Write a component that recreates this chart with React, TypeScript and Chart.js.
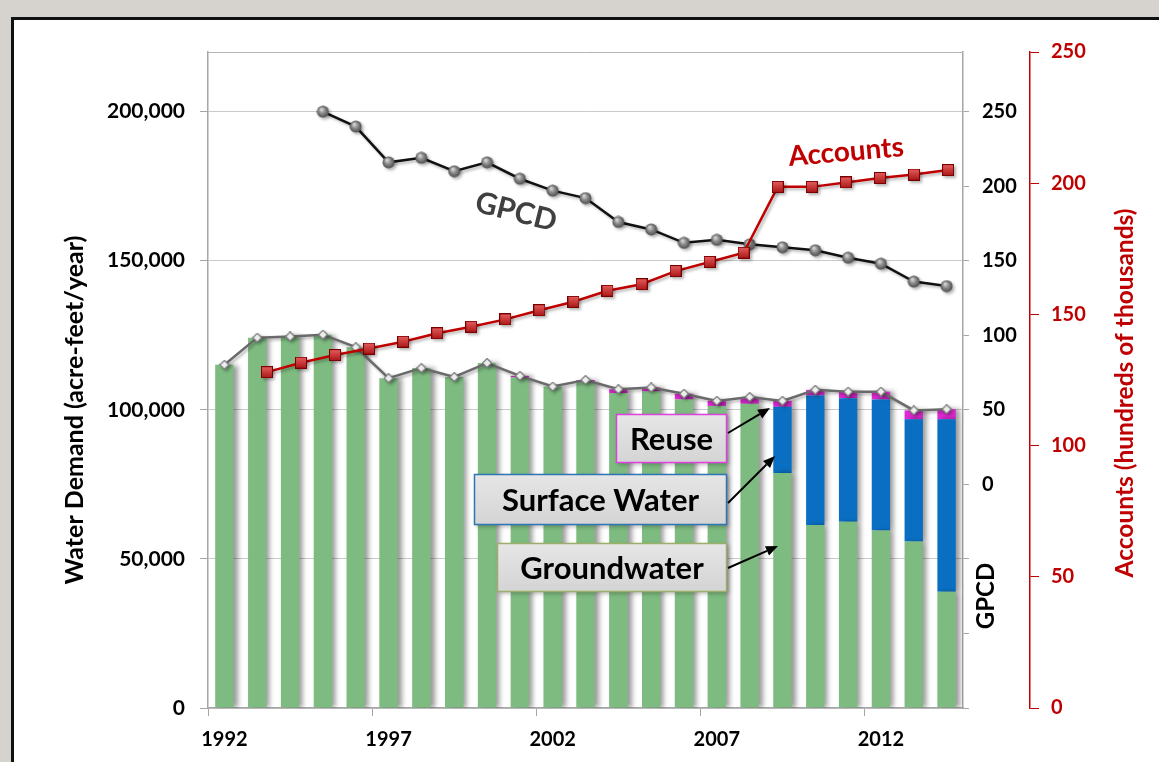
import React, { useEffect, useRef } from 'react';
import { Chart, registerables } from 'chart.js';

Chart.register(...registerables);

const years = ['1992','1993','1994','1995','1996','1997','1998','1999','2000','2001','2002','2003','2004','2005','2006','2007','2008','2009','2010','2011','2012','2013','2014'];
const groundwater = [115100,124200,124600,125200,121000,110600,114000,111000,115700,110900,107800,109400,105600,106200,103500,101300,102000,78800,61400,62500,59500,55800,39000];
const surfaceWater = [0,0,0,0,0,0,0,0,0,0,0,0,0,0,0,0,0,22200,43400,41400,44000,41000,57800];
const reuse = [0,0,0,0,0,0,0,0,0,500,0,600,1300,1300,1900,1700,2300,2000,1900,2200,2600,3000,3400];
const totalDemand = [115100,124200,124600,125200,121000,110600,114000,111000,115700,111400,107800,110000,106900,107500,105400,103000,104300,103000,106700,106100,106100,99800,100200];
const gpcd = [null,null,null,250,240,216,219,210,216,205,197,192,176,171,162,164,161,159,157,152,148,136,133];
const accountYears = [1993,1994,1995,1996,1997,1998,1999,2000,2001,2002,2003,2004,2005,2006,2007,2008,2009,2010,2011,2012,2013];
const accounts = [128,131.6,134.5,137,139.6,142.8,145.3,148.1,151.6,154.8,159,161.5,166.5,170,173.5,198.6,198.6,200.3,202,203.3,205];
const demandTicks = [0,50000,100000,150000,200000];
const gpcdTicks = [-150,-100,-50,0,50,100,150,200,250];
const accountTicks = [0,50,100,150,200,250];
const xLabelEvery = 5;

const FONT = 'Lato, "Open Sans", sans-serif';
const RED = '#c00000';

function sphereImage(d: number) {
  const c = document.createElement('canvas');
  c.width = d; c.height = d;
  const g = c.getContext('2d')!;
  const grad = g.createRadialGradient(d * 0.38, d * 0.32, 0.5, d / 2, d / 2, d / 2);
  grad.addColorStop(0, '#d8d8d8');
  grad.addColorStop(0.45, '#8a8a8a');
  grad.addColorStop(1, '#454545');
  g.fillStyle = grad;
  g.beginPath(); g.arc(d / 2, d / 2, d / 2 - 0.5, 0, Math.PI * 2); g.fill();
  return c;
}

function squareImage(d: number) {
  const c = document.createElement('canvas');
  c.width = d; c.height = d;
  const g = c.getContext('2d')!;
  const grad = g.createLinearGradient(0, 0, 0, d);
  grad.addColorStop(0, '#e86060');
  grad.addColorStop(1, '#a81414');
  g.fillStyle = grad;
  g.fillRect(0, 0, d, d);
  g.strokeStyle = '#7a0000';
  g.lineWidth = 1;
  g.strokeRect(0.5, 0.5, d - 1, d - 1);
  return c;
}

function diamondImage(d: number) {
  const c = document.createElement('canvas');
  c.width = d; c.height = d;
  const g = c.getContext('2d')!;
  g.beginPath();
  g.moveTo(d / 2, 0.5); g.lineTo(d - 0.5, d / 2); g.lineTo(d / 2, d - 0.5); g.lineTo(0.5, d / 2); g.closePath();
  g.fillStyle = '#eeeeee';
  g.fill();
  g.strokeStyle = '#7a7a7a';
  g.lineWidth = 1.2;
  g.stroke();
  return c;
}

const shadowPlugin = {
  id: 'shadows',
  beforeDatasetDraw(chart: any, args: any) {
    const ctx = chart.ctx;
    ctx.save();
    const t = args.meta.type;
    if (t === 'bar') {
      ctx.shadowColor = 'rgba(0,0,0,0.4)';
      ctx.shadowBlur = 5;
      ctx.shadowOffsetX = 4;
      ctx.shadowOffsetY = 0;
    } else {
      ctx.shadowColor = 'rgba(0,0,0,0.3)';
      ctx.shadowBlur = 3;
      ctx.shadowOffsetX = 2;
      ctx.shadowOffsetY = 2;
    }
  },
  afterDatasetDraw(chart: any) {
    chart.ctx.restore();
  },
};

function drawArrow(ctx: CanvasRenderingContext2D, x1: number, y1: number, x2: number, y2: number) {
  const ang = Math.atan2(y2 - y1, x2 - x1);
  const hl = 12, hw = 5;
  const bx = x2 - hl * Math.cos(ang), by = y2 - hl * Math.sin(ang);
  ctx.beginPath();
  ctx.moveTo(x1, y1); ctx.lineTo(bx, by);
  ctx.strokeStyle = '#000'; ctx.lineWidth = 2; ctx.stroke();
  ctx.beginPath();
  ctx.moveTo(x2, y2);
  ctx.lineTo(bx + hw * Math.sin(ang), by - hw * Math.cos(ang));
  ctx.lineTo(bx - hw * Math.sin(ang), by + hw * Math.cos(ang));
  ctx.closePath();
  ctx.fillStyle = '#000'; ctx.fill();
}

function drawBox(ctx: CanvasRenderingContext2D, x: number, y: number, w: number, h: number, border: string, text: string) {
  ctx.save();
  ctx.shadowColor = 'rgba(0,0,0,0.25)';
  ctx.shadowBlur = 4;
  ctx.shadowOffsetX = 2;
  ctx.shadowOffsetY = 2;
  const g = ctx.createLinearGradient(0, y, 0, y + h);
  g.addColorStop(0, '#e6e6e6');
  g.addColorStop(1, '#d4d4d4');
  ctx.fillStyle = g;
  ctx.fillRect(x, y, w, h);
  ctx.restore();
  ctx.save();
  ctx.strokeStyle = border;
  ctx.lineWidth = 1.5;
  ctx.strokeRect(x + 0.5, y + 0.5, w - 1, h - 1);
  ctx.fillStyle = '#000';
  ctx.font = `bold 31px ${FONT}`;
  ctx.textAlign = 'center';
  ctx.textBaseline = 'middle';
  ctx.fillText(text, x + w / 2, y + h / 2 + 1);
  ctx.restore();
}

function rotatedText(ctx: CanvasRenderingContext2D, text: string, x: number, y: number, deg: number, font: string, color: string) {
  ctx.save();
  ctx.translate(x, y);
  ctx.rotate((deg * Math.PI) / 180);
  ctx.font = font;
  ctx.fillStyle = color;
  ctx.textAlign = 'center';
  ctx.textBaseline = 'middle';
  ctx.fillText(text, 0, 0);
  ctx.restore();
}

const framePlugin = {
  id: 'frame',
  beforeDatasetsDraw(chart: any) {
    const { ctx, chartArea } = chart;
    ctx.save();
    ctx.strokeStyle = '#b4b4b4';
    ctx.lineWidth = 1;
    ctx.beginPath();
    ctx.moveTo(chartArea.left, chartArea.top + 0.5);
    ctx.lineTo(chartArea.right, chartArea.top + 0.5);
    ctx.stroke();
    ctx.restore();
  },
  afterDraw(chart: any) {
    const ctx = chart.ctx as CanvasRenderingContext2D;
    // axis titles
    rotatedText(ctx, 'Water Demand (acre-feet/year)', 75, 410, -90, `bold 25px ${FONT}`, '#000');
    rotatedText(ctx, 'GPCD', 986, 596, -90, `bold 24px ${FONT}`, '#000');
    rotatedText(ctx, 'Accounts (hundreds of thousands)', 1125, 393, -90, `bold 24.5px ${FONT}`, RED);
    // series labels
    rotatedText(ctx, 'GPCD', 516, 212, 14, `bold 30px ${FONT}`, '#404040');
    rotatedText(ctx, 'Accounts', 846, 152, -5, `bold 28px ${FONT}`, RED);
    // callout boxes
    drawBox(ctx, 616, 414, 111, 49, '#e040e0', 'Reuse');
    drawBox(ctx, 474, 474, 253, 51, '#2e75b6', 'Surface Water');
    drawBox(ctx, 497, 543, 230, 49, '#9bae6a', 'Groundwater');
    drawArrow(ctx, 728, 433, 770, 408);
    drawArrow(ctx, 728, 503, 775, 456);
    drawArrow(ctx, 728, 568, 778, 546);
  },
};

export default function App() {
  const ref = useRef<HTMLCanvasElement>(null);

  useEffect(() => {
    if (!ref.current) return;
    const sphere = sphereImage(13);
    const square = squareImage(12);
    const diamond = diamondImage(10);

    const barCommon = {
      stack: 'water',
      order: 3,
      grouped: false,
      barPercentage: 0.56,
      categoryPercentage: 1,
    };

    const chart = new Chart(ref.current, {
      type: 'bar',
      data: {
        labels: years,
        datasets: [
          {
            type: 'line',
            label: 'Accounts',
            data: accountYears.map((yr, i) => ({ x: yr, y: accounts[i] })),
            xAxisID: 'xAcc',
            yAxisID: 'yA',
            borderColor: RED,
            borderWidth: 2.5,
            pointStyle: square as any,
            pointRadius: 6,
            order: 0,
          } as any,
          {
            type: 'line',
            label: 'GPCD',
            data: gpcd,
            xAxisID: 'x',
            yAxisID: 'yG',
            borderColor: '#111',
            borderWidth: 2.5,
            pointStyle: sphere as any,
            pointRadius: 6,
            order: 1,
          } as any,
          {
            type: 'line',
            label: 'Total',
            data: totalDemand,
            xAxisID: 'x',
            yAxisID: 'y',
            stack: 'total',
            borderColor: '#6a6a6a',
            borderWidth: 2.5,
            pointStyle: diamond as any,
            pointRadius: 5,
            order: 2,
          } as any,
          { label: 'Groundwater', data: groundwater, backgroundColor: '#7dbb80', ...barCommon } as any,
          { label: 'Surface Water', data: surfaceWater, backgroundColor: '#0a6fc2', ...barCommon } as any,
          { label: 'Reuse', data: reuse, backgroundColor: '#e02ad4', ...barCommon } as any,
        ],
      },
      options: {
        responsive: false,
        animation: false,
        devicePixelRatio: 1,
        layout: { padding: { top: 52, left: 0, right: 0, bottom: 0 } },
        plugins: {
          legend: { display: false },
          tooltip: { enabled: false },
        },
        scales: {
          x: {
            type: 'category',
            stacked: true,
            offset: true,
            afterFit: (s: any) => { s.height = 54; },
            grid: {
              offset: true,
              drawOnChartArea: false,
              tickLength: 8,
              color: (c: any) => (c.index % xLabelEvery === 0 ? '#a6a6a6' : 'rgba(0,0,0,0)'),
            },
            border: { color: '#a6a6a6', width: 1.5 },
            ticks: {
              autoSkip: false,
              maxRotation: 0,
              padding: 12,
              color: '#000',
              font: { family: FONT, weight: 'bold', size: 20 },
              callback: (_v: any, i: number) => (i % xLabelEvery === 0 ? years[i] : ''),
            },
          },
          xAcc: {
            type: 'linear',
            display: false,
            offset: false,
            grid: { offset: false },
            min: 1991.27,
            max: 2013.44,
          },
          y: {
            type: 'linear',
            position: 'left',
            stacked: true,
            min: 0,
            max: 220000,
            afterFit: (s: any) => { s.width = 208; },
            afterBuildTicks: (s: any) => { s.ticks = demandTicks.map((v) => ({ value: v })); },
            grid: { color: '#cacaca', tickColor: '#a6a6a6', tickLength: 8, lineWidth: 1 },
            border: { color: '#a6a6a6', width: 1.5 },
            ticks: {
              padding: 15,
              color: '#000',
              font: { family: FONT, weight: 'bold', size: 21 },
              callback: (v: any) => Number(v).toLocaleString('en-US'),
            },
          },
          yG: {
            type: 'linear',
            position: 'right',
            weight: 0,
            min: -150,
            max: 290,
            afterFit: (s: any) => { s.width = 67; },
            afterBuildTicks: (s: any) => { s.ticks = gpcdTicks.map((v) => ({ value: v })); },
            grid: { drawOnChartArea: false, color: '#a6a6a6', tickLength: 6 },
            border: { color: '#a6a6a6', width: 1.5 },
            ticks: {
              padding: 13,
              color: '#000',
              font: { family: FONT, weight: 'bold', size: 20 },
              callback: (v: any) => (Number(v) >= 0 ? String(v) : ''),
            },
          },
          yA: {
            type: 'linear',
            position: 'right',
            weight: 1,
            min: 0,
            max: 250,
            afterFit: (s: any) => { s.width = 129; },
            afterBuildTicks: (s: any) => { s.ticks = accountTicks.map((v) => ({ value: v })); },
            grid: { drawOnChartArea: false, color: RED, tickLength: 9 },
            border: { color: RED, width: 1.5 },
            ticks: {
              padding: 12,
              color: RED,
              font: { family: FONT, weight: 'bold', size: 20 },
            },
          },
        },
      } as any,
      plugins: [shadowPlugin, framePlugin],
    });
    return () => chart.destroy();
  }, []);

  return (
    <div style={{ position: 'fixed', left: 0, top: 0, width: 1159, height: 762, background: '#d6d3ce', overflow: 'hidden' }}>
      <div
        style={{
          position: 'absolute',
          left: 11,
          top: 17,
          width: 1200,
          height: 800,
          background: '#fff',
          borderLeft: '3px solid #111',
          borderTop: '3px solid #111',
        }}
      />
      <canvas ref={ref} width={1159} height={762} style={{ position: 'absolute', left: 0, top: 0, width: 1159, height: 762 }} />
    </div>
  );
}
